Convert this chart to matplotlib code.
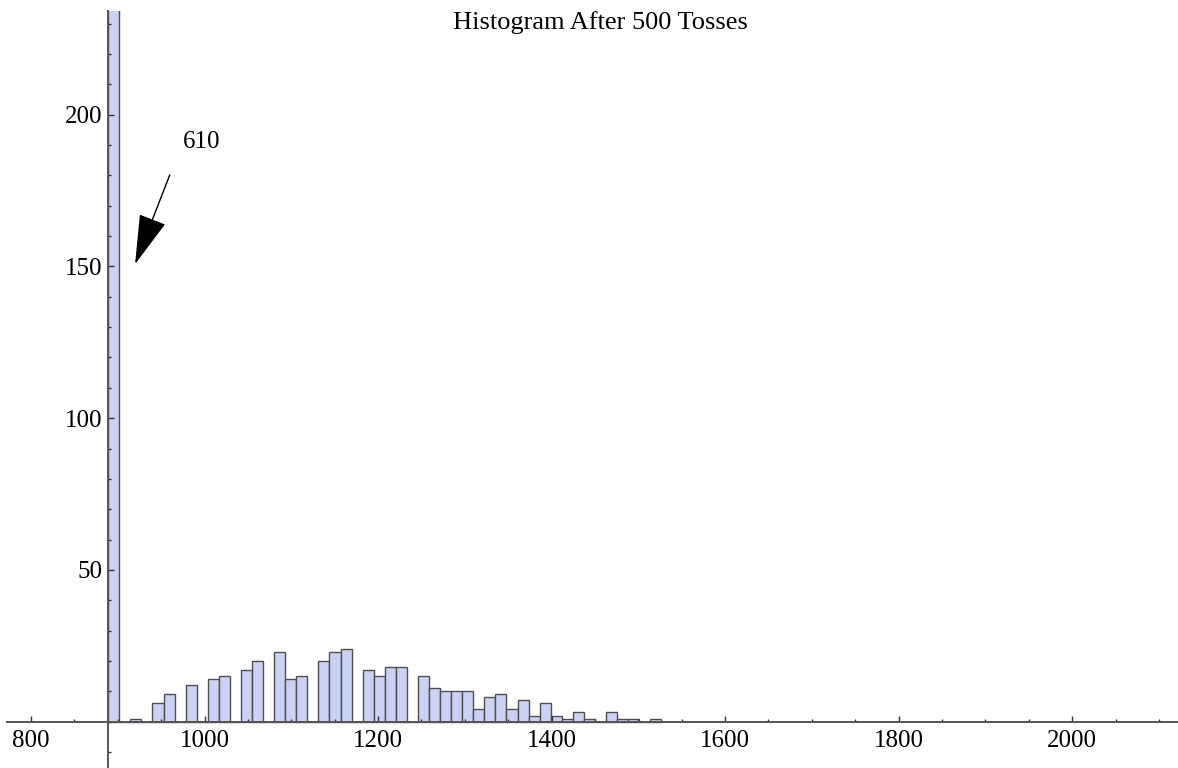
import matplotlib
matplotlib.use("Agg")
import matplotlib.pyplot as plt
import numpy as np
from matplotlib.ticker import FixedLocator, MultipleLocator

# histogram data (1000 values, bin width ~12.75)
bin_start = 889.0
bin_width = 12.75
counts = [610, 0, 1, 0, 6, 9, 0, 12, 0, 14, 15, 0, 17, 20, 0, 23, 14, 15, 0, 20,
          23, 24, 0, 17, 15, 18, 18, 0, 15, 11, 10, 10, 10, 4, 8, 9, 4, 7, 2, 6,
          2, 1, 3, 1, 0, 3, 1, 1, 0, 1]
x_major = [800, 1000, 1200, 1400, 1600, 1800, 2000]
y_major = [50, 100, 150, 200]
title = "Histogram After 500 Tosses"
note_text = "610"

plt.rcParams['font.family'] = ['Liberation Serif', 'DejaVu Serif']

fig = plt.figure(figsize=(11.78, 7.68), dpi=100)
ax = fig.add_axes([0.0062, 0.0, 0.9938, 0.9857])

lefts = bin_start + bin_width * np.arange(len(counts))
ax.bar(lefts, counts, width=bin_width, align='edge',
       color='#cbd2f4', edgecolor='#4f4f4f', linewidth=1.0, zorder=1)

ax.set_xlim(772.7, 2122)
ax.set_ylim(-15.3, 234.2)

axis_col = '#555555'
ax.spines['left'].set_position(('data', bin_start))
ax.spines['bottom'].set_position(('data', 0))
ax.spines['top'].set_visible(False)
ax.spines['right'].set_visible(False)
for s in ('left', 'bottom'):
    ax.spines[s].set_color(axis_col)
    ax.spines[s].set_linewidth(1.4)
    ax.spines[s].set_zorder(3)

ax.xaxis.set_major_locator(FixedLocator(x_major))
ax.xaxis.set_minor_locator(MultipleLocator(50))
ax.yaxis.set_major_locator(FixedLocator(y_major))
ax.yaxis.set_minor_locator(MultipleLocator(10))
ax.tick_params(which='both', direction='in', color='#333333', width=1.0,
               labelsize=18)
ax.tick_params(which='major', length=4.2)
ax.tick_params(which='minor', length=2.4)
ax.tick_params(axis='x', pad=6)
ax.tick_params(axis='y', pad=4)

# arrow pointing at the clipped tall bar, and its count label
ax.annotate('', xy=(920, 150.8), xytext=(960, 180.2),
            arrowprops=dict(arrowstyle='-|>,head_length=3.2,head_width=0.9',
                            mutation_scale=10, color='black', lw=1,
                            shrinkA=0, shrinkB=0))
ax.text(997, 191, note_text, fontsize=18, ha='center', va='center')

fig.text(600 / 1178, 1 - 23 / 768, title, ha='center', va='center', fontsize=19)

fig.savefig('out.png', dpi=100)
